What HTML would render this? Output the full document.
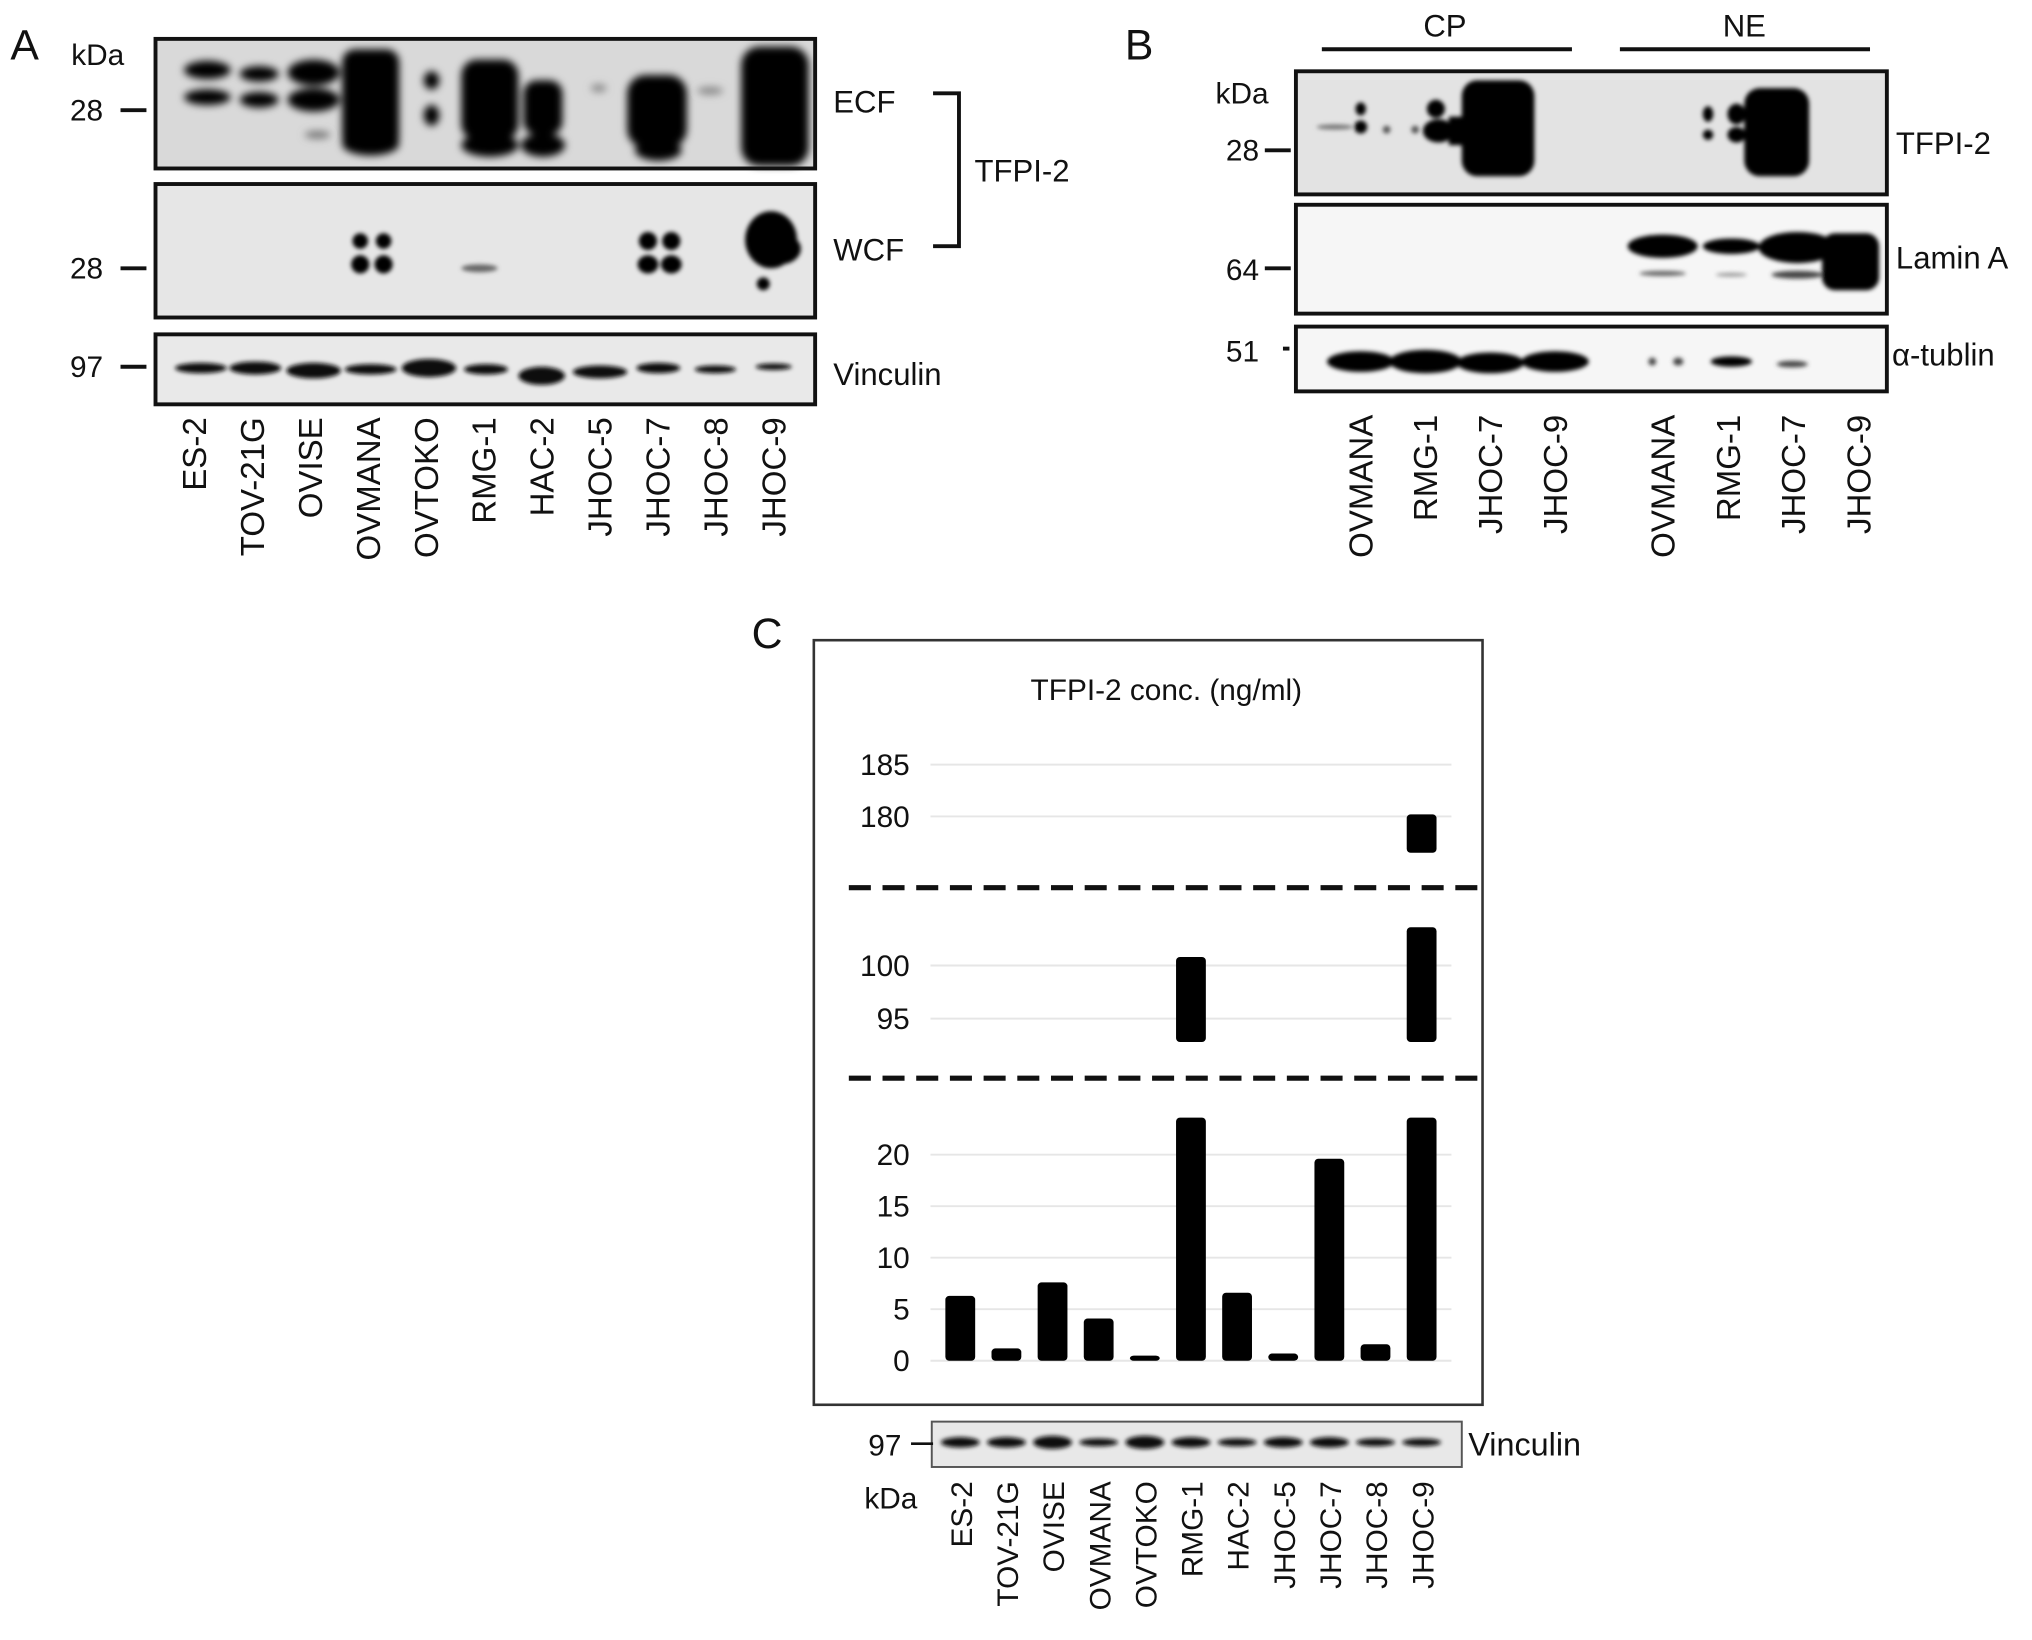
<!DOCTYPE html>
<html><head><meta charset="utf-8"><style>
html,body{margin:0;padding:0;background:#fff}
svg{display:block}
text{font-family:"Liberation Sans",Arial,sans-serif;fill:#111}
</style></head><body>
<svg id="fig" width="2032" height="1640" viewBox="0 0 1568 1265.5">
<defs>
<filter id="bl" x="-50%" y="-50%" width="200%" height="200%"><feGaussianBlur stdDeviation="3"/></filter>
<filter id="bl2" x="-50%" y="-50%" width="200%" height="200%"><feGaussianBlur stdDeviation="1.6"/></filter>
</defs>

<!-- PANEL A -->
<g>
<text x="8" y="46" font-size="33">A</text>
<text x="55" y="50" font-size="23">kDa</text>
<text x="54" y="93" font-size="23">28</text>
<line x1="93" y1="85" x2="113" y2="85" stroke="#111" stroke-width="3"/>
<text x="54" y="215" font-size="23">28</text>
<line x1="93" y1="207" x2="113" y2="207" stroke="#111" stroke-width="3"/>
<text x="54" y="291" font-size="23">97</text>
<line x1="93" y1="283" x2="113" y2="283" stroke="#111" stroke-width="3"/>

<g>
<rect x="120" y="30" width="509" height="100" fill="#d9d9d9"/>
<g filter="url(#bl)" fill="#000">
<ellipse cx="160" cy="54" rx="18" ry="7"/><ellipse cx="160" cy="75" rx="18" ry="6"/>
<ellipse cx="200" cy="57" rx="15" ry="6"/><ellipse cx="200" cy="77" rx="15" ry="6"/>
<ellipse cx="242" cy="56" rx="20" ry="10"/><ellipse cx="242" cy="77" rx="20" ry="9"/><ellipse cx="245" cy="104" rx="10" ry="3" fill="#777"/>
<rect x="264" y="38" width="44" height="78" rx="10"/><ellipse cx="286" cy="111" rx="22" ry="9"/>
<ellipse cx="333" cy="62" rx="6" ry="7"/><ellipse cx="333" cy="89" rx="6" ry="8"/>
<rect x="356" y="46" width="44" height="62" rx="12"/><ellipse cx="378" cy="112" rx="22" ry="9"/>
<rect x="404" y="62" width="30" height="42" rx="10"/><ellipse cx="419" cy="112" rx="17" ry="9"/>
<ellipse cx="462" cy="68" rx="6" ry="3" fill="#888"/>
<rect x="484" y="58" width="46" height="56" rx="14"/><ellipse cx="508" cy="116" rx="18" ry="8"/>
<ellipse cx="548" cy="70" rx="10" ry="3" fill="#888"/>
<rect x="572" y="36" width="52" height="92" rx="14"/>
</g>
<rect x="120" y="30" width="509" height="100" fill="none" stroke="#111" stroke-width="3"/>
</g>

<g>
<rect x="120" y="142" width="509" height="103" fill="#e6e6e6"/>
<g filter="url(#bl2)" fill="#000">
<ellipse cx="278" cy="186" rx="6" ry="6"/><ellipse cx="296" cy="186" rx="6" ry="6"/>
<ellipse cx="278" cy="204" rx="7" ry="7"/><ellipse cx="296" cy="204" rx="7" ry="7"/>
<ellipse cx="500" cy="186" rx="7" ry="7"/><ellipse cx="518" cy="186" rx="7" ry="7"/>
<ellipse cx="500" cy="204" rx="8" ry="7"/><ellipse cx="518" cy="204" rx="8" ry="7"/>
<ellipse cx="595" cy="185" rx="20" ry="22"/><ellipse cx="602" cy="192" rx="16" ry="12"/><ellipse cx="589" cy="219" rx="5" ry="5"/>
<ellipse cx="370" cy="207" rx="14" ry="3" fill="#666"/>
</g>
<rect x="120" y="142" width="509" height="103" fill="none" stroke="#111" stroke-width="3"/>
</g>

<g>
<rect x="120" y="258" width="509" height="54" fill="#e9e9e9"/>
<g filter="url(#bl2)" fill="#111">
<ellipse cx="155" cy="284" rx="20" ry="4"/><ellipse cx="197" cy="284" rx="20" ry="5"/>
<ellipse cx="242" cy="286" rx="21" ry="6"/><ellipse cx="286" cy="285" rx="20" ry="4"/>
<ellipse cx="331" cy="284" rx="21" ry="7"/><ellipse cx="375" cy="285" rx="17" ry="4"/>
<ellipse cx="418" cy="290" rx="18" ry="7"/><ellipse cx="463" cy="287" rx="21" ry="5"/>
<ellipse cx="508" cy="284" rx="17" ry="4"/><ellipse cx="552" cy="285" rx="16" ry="3"/>
<ellipse cx="597" cy="283" rx="14" ry="2.5"/>
</g>
<rect x="120" y="258" width="509" height="54" fill="none" stroke="#111" stroke-width="3"/>
</g>

<text x="643" y="87" font-size="24">ECF</text>
<text x="643" y="201" font-size="24">WCF</text>
<path d="M720 72 H740 V190 H720" fill="none" stroke="#111" stroke-width="3"/>
<text x="752" y="140" font-size="24">TFPI-2</text>
<text x="643" y="297" font-size="24">Vinculin</text>
<g id="lanesA"></g>
</g>

<!-- PANEL B -->
<g>
<text x="868" y="46" font-size="33">B</text>
<text x="1115" y="28" font-size="24" text-anchor="middle">CP</text>
<line x1="1020" y1="38" x2="1213" y2="38" stroke="#111" stroke-width="3"/>
<text x="1346" y="28" font-size="24" text-anchor="middle">NE</text>
<line x1="1250" y1="38" x2="1443" y2="38" stroke="#111" stroke-width="3"/>
<text x="938" y="80" font-size="23">kDa</text>
<text x="946" y="124" font-size="23">28</text>
<line x1="976" y1="116" x2="996" y2="116" stroke="#111" stroke-width="3"/>
<text x="946" y="216" font-size="23">64</text>
<line x1="976" y1="207" x2="996" y2="207" stroke="#111" stroke-width="3"/>
<text x="946" y="279" font-size="23">51</text>
<line x1="990" y1="269" x2="995" y2="269" stroke="#111" stroke-width="3"/>

<g>
<rect x="1000" y="55" width="456" height="95" fill="#e3e3e3"/>
<g filter="url(#bl2)" fill="#000">
<ellipse cx="1030" cy="98" rx="14" ry="2" fill="#777"/>
<ellipse cx="1050" cy="84" rx="4" ry="5"/><ellipse cx="1050" cy="98" rx="5" ry="5"/>
<ellipse cx="1070" cy="100" rx="3" ry="3" fill="#555"/><ellipse cx="1092" cy="100" rx="3" ry="3" fill="#555"/>
<ellipse cx="1108" cy="84" rx="7" ry="7"/><ellipse cx="1110" cy="101" rx="12" ry="9"/>
<rect x="1118" y="90" width="20" height="22"/>
<rect x="1128" y="62" width="56" height="74" rx="12"/>
<ellipse cx="1150" cy="128" rx="8" ry="5"/><ellipse cx="1172" cy="128" rx="8" ry="5"/>
<ellipse cx="1318" cy="88" rx="4" ry="6"/><ellipse cx="1318" cy="104" rx="4" ry="4"/>
<ellipse cx="1340" cy="88" rx="7" ry="8"/><ellipse cx="1340" cy="104" rx="7" ry="6"/>
<rect x="1346" y="68" width="50" height="68" rx="12"/>
<ellipse cx="1390" cy="128" rx="3" ry="3"/>
</g>
<rect x="1000" y="55" width="456" height="95" fill="none" stroke="#111" stroke-width="3"/>
</g>

<g>
<rect x="1000" y="158" width="456" height="84" fill="#f6f6f6"/>
<g filter="url(#bl2)" fill="#000">
<ellipse cx="1283" cy="190" rx="27" ry="9"/><ellipse cx="1283" cy="211" rx="18" ry="2" fill="#666"/>
<ellipse cx="1336" cy="190" rx="22" ry="6"/><ellipse cx="1336" cy="212" rx="12" ry="1.5" fill="#999"/>
<ellipse cx="1387" cy="191" rx="30" ry="12"/><ellipse cx="1387" cy="212" rx="20" ry="3" fill="#444"/>
<rect x="1406" y="180" width="44" height="44" rx="10"/>
</g>
<rect x="1000" y="158" width="456" height="84" fill="none" stroke="#111" stroke-width="3"/>
</g>

<g>
<rect x="1000" y="252" width="456" height="50" fill="#f6f6f6"/>
<g filter="url(#bl2)" fill="#000">
<ellipse cx="1050" cy="279" rx="26" ry="8"/><ellipse cx="1100" cy="279" rx="28" ry="9"/>
<ellipse cx="1150" cy="280" rx="26" ry="8"/><ellipse cx="1200" cy="279" rx="26" ry="8"/>
<ellipse cx="1275" cy="279" rx="3" ry="3" fill="#444"/><ellipse cx="1295" cy="279" rx="4" ry="3" fill="#444"/>
<ellipse cx="1336" cy="279" rx="16" ry="4"/><ellipse cx="1383" cy="281" rx="12" ry="2.5" fill="#444"/>
</g>
<rect x="1000" y="252" width="456" height="50" fill="none" stroke="#111" stroke-width="3"/>
</g>

<text x="1463" y="119" font-size="24">TFPI-2</text>
<text x="1463" y="207" font-size="24">Lamin A</text>
<text x="1460" y="282" font-size="24">α-tublin</text>
<g id="lanesB"></g>
</g>

<!-- PANEL C -->
<g>
<text x="580" y="500" font-size="33">C</text>
<rect x="628" y="494" width="516" height="590" fill="#fff" stroke="#333" stroke-width="2"/>
<text x="900" y="540" font-size="23" text-anchor="middle">TFPI-2 conc. (ng/ml)</text>
<g id="grid"></g>
<g id="yticks"></g>
<g id="bars"></g>
<line x1="655" y1="685" x2="1140" y2="685" stroke="#111" stroke-width="4" stroke-dasharray="17,9"/>
<line x1="655" y1="832" x2="1140" y2="832" stroke="#111" stroke-width="4" stroke-dasharray="17,9"/>

<g>
<rect x="719" y="1097" width="409" height="35" fill="#e8e8e8" stroke="#555" stroke-width="1.5"/>
<g id="vincC" filter="url(#bl2)" fill="#111"></g>
</g>
<text x="670" y="1123" font-size="23">97</text>
<line x1="703" y1="1114" x2="720" y2="1114" stroke="#111" stroke-width="2"/>
<text x="667" y="1164" font-size="23">kDa</text>
<text x="1133" y="1123" font-size="25">Vinculin</text>
<g id="lanesC"></g>
</g>
</svg>
<script>
const NS="http://www.w3.org/2000/svg";
const linesA=["ES-2","TOV-21G","OVISE","OVMANA","OVTOKO","RMG-1","HAC-2","JHOC-5","JHOC-7","JHOC-8","JHOC-9"];
const linesB=["OVMANA","RMG-1","JHOC-7","JHOC-9","OVMANA","RMG-1","JHOC-7","JHOC-9"];
const categories=["ES-2","TOV-21G","OVISE","OVMANA","OVTOKO","RMG-1","HAC-2","JHOC-5","JHOC-7","JHOC-8","JHOC-9"];
const concValues=[6.3,1.2,7.6,4.1,0.5,100.8,6.6,0.7,19.6,1.6,180.2];
const lowTicks=[0,5,10,15,20];
const midTicks=[95,100];
const highTicks=[180,185];

function mk(tag,attrs,parent){const e=document.createElementNS(NS,tag);for(const k in attrs)e.setAttribute(k,attrs[k]);parent.appendChild(e);return e;}
function laneLabels(g,names,xs,top,fs){
  names.forEach((n,i)=>{
    const t=mk("text",{x:0,y:0,"font-size":fs,"text-anchor":"end",transform:`translate(${xs(i)+9},${top}) rotate(-90)`},g);
    t.textContent=n;
    
    
  });
}
laneLabels(document.getElementById("lanesA"),linesA,i=>150+i*44.7,322,25.5);
laneLabels(document.getElementById("lanesB"),linesB,i=>(i<4?1050+i*50:1283+(i-4)*50.5),320,25.5);

const xBand=i=>741+i*35.6;
const barW=23;
const segments=[
  {lo:0,hi:23.6,y0:1050,k:7.95,ticks:lowTicks},
  {lo:92.8,hi:103.6,y0:745,ref:100,k:8.2,ticks:midTicks},
  {lo:176.5,hi:186,y0:630,ref:180,k:8,ticks:highTicks}
];
function ySeg(s,v){return s.ref!==undefined? s.y0+(s.ref-v)*s.k : s.y0-v*s.k;}
const grid=document.getElementById("grid"),yt=document.getElementById("yticks"),bars=document.getElementById("bars");
segments.forEach(s=>{
  s.ticks.forEach(v=>{
    const y=ySeg(s,v);
    const l=mk("line",{x1:718,x2:1120,y1:y,y2:y,stroke:"#e6e6e6","stroke-width":1.5},grid);
    
    
    const t=mk("text",{x:702,y:y+8,"font-size":23,"text-anchor":"end"},yt);
    t.textContent=v;
    
    
  });
});
concValues.forEach((v,i)=>{
  segments.forEach(s=>{
    if(v>s.lo){
      const top=ySeg(s,Math.min(v,s.hi)),bot=ySeg(s,s.lo);
      const r=mk("rect",{x:xBand(i)-barW/2,y:top,width:barW,height:bot-top,rx:3,fill:"#000"},bars);
      
      
    }
  });
});
const vc=document.getElementById("vincC");
categories.forEach((c,i)=>{
  const e=mk("ellipse",{cx:xBand(i),cy:1113,rx:15,ry:[4,4,5,3,5,4,3,4,4,3,3][i]},vc);
  
  
});
laneLabels(document.getElementById("lanesC"),categories,i=>xBand(i),1143,23);
</script>
</body></html>
